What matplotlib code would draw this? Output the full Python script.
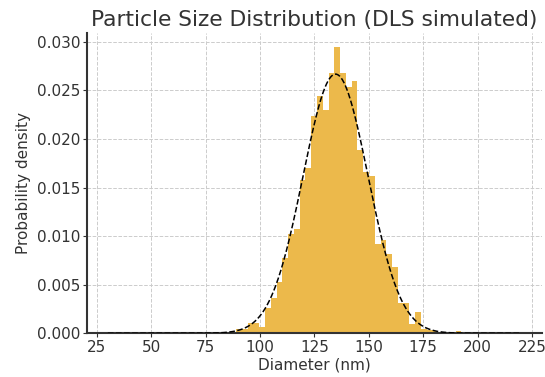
import numpy as np
import matplotlib
matplotlib.use("Agg")
import matplotlib.pyplot as plt

# histogram (density), 39 bins of ~2.656 nm
bin_start = 89.0
bin_width = 2.656
density = [0.0004, 0.0004, 0.0011, 0.0011, 0.0006, 0.0026, 0.0036, 0.0053,
           0.0078, 0.0102, 0.0107, 0.0158, 0.0170, 0.0224, 0.0244, 0.0230,
           0.0268, 0.0295, 0.0268, 0.0254, 0.0260, 0.0189, 0.0166, 0.0162,
           0.0092, 0.0096, 0.0082, 0.0068, 0.0031, 0.0031, 0.0010, 0.0022,
           0.0004, 0.0003, 0.0002, 0.0001, 0.0, 0.0, 0.0002]

# fitted normal
mu = 134.7
sigma = 14.95
x_min, x_max = 30, 220

edges = bin_start + bin_width * np.arange(len(density) + 1)
xs = np.linspace(x_min, x_max, 600)
pdf = np.exp(-0.5 * ((xs - mu) / sigma) ** 2) / (sigma * np.sqrt(2 * np.pi))

txt = "#333333"
plt.rcParams['font.family'] = ['DejaVu Sans']

fig = plt.figure(figsize=(5.45, 3.77), dpi=100)
ax = fig.add_axes([0.16, 0.116, 0.834, 0.796])

ax.stairs(density, edges, fill=True, color="#ECB94B", zorder=2)
ax.plot(xs, pdf, color="black", linestyle="--", linewidth=1.1, zorder=3)

ax.set_xticks(np.arange(25, 226, 25))
ax.set_yticks(np.arange(0, 0.0301, 0.005))
ax.set_ylim(0, 0.0309)
ax.margins(x=0.05)
ax.grid(True, linestyle="--", color="#cccccc", linewidth=0.7, zorder=0)
ax.set_axisbelow(True)

for s in ["top", "right"]:
    ax.spines[s].set_visible(False)
for s in ["left", "bottom"]:
    ax.spines[s].set_color(txt)
    ax.spines[s].set_linewidth(1.5)

ax.tick_params(colors=txt, labelsize=11, length=3, pad=2)
ax.set_title("Particle Size Distribution (DLS simulated)", fontsize=15.7, color=txt, pad=5)
ax.set_xlabel("Diameter (nm)", fontsize=11, color=txt, labelpad=2)
ax.set_ylabel("Probability density", fontsize=11, color=txt, labelpad=4)

fig.savefig("out.png", dpi=100)
